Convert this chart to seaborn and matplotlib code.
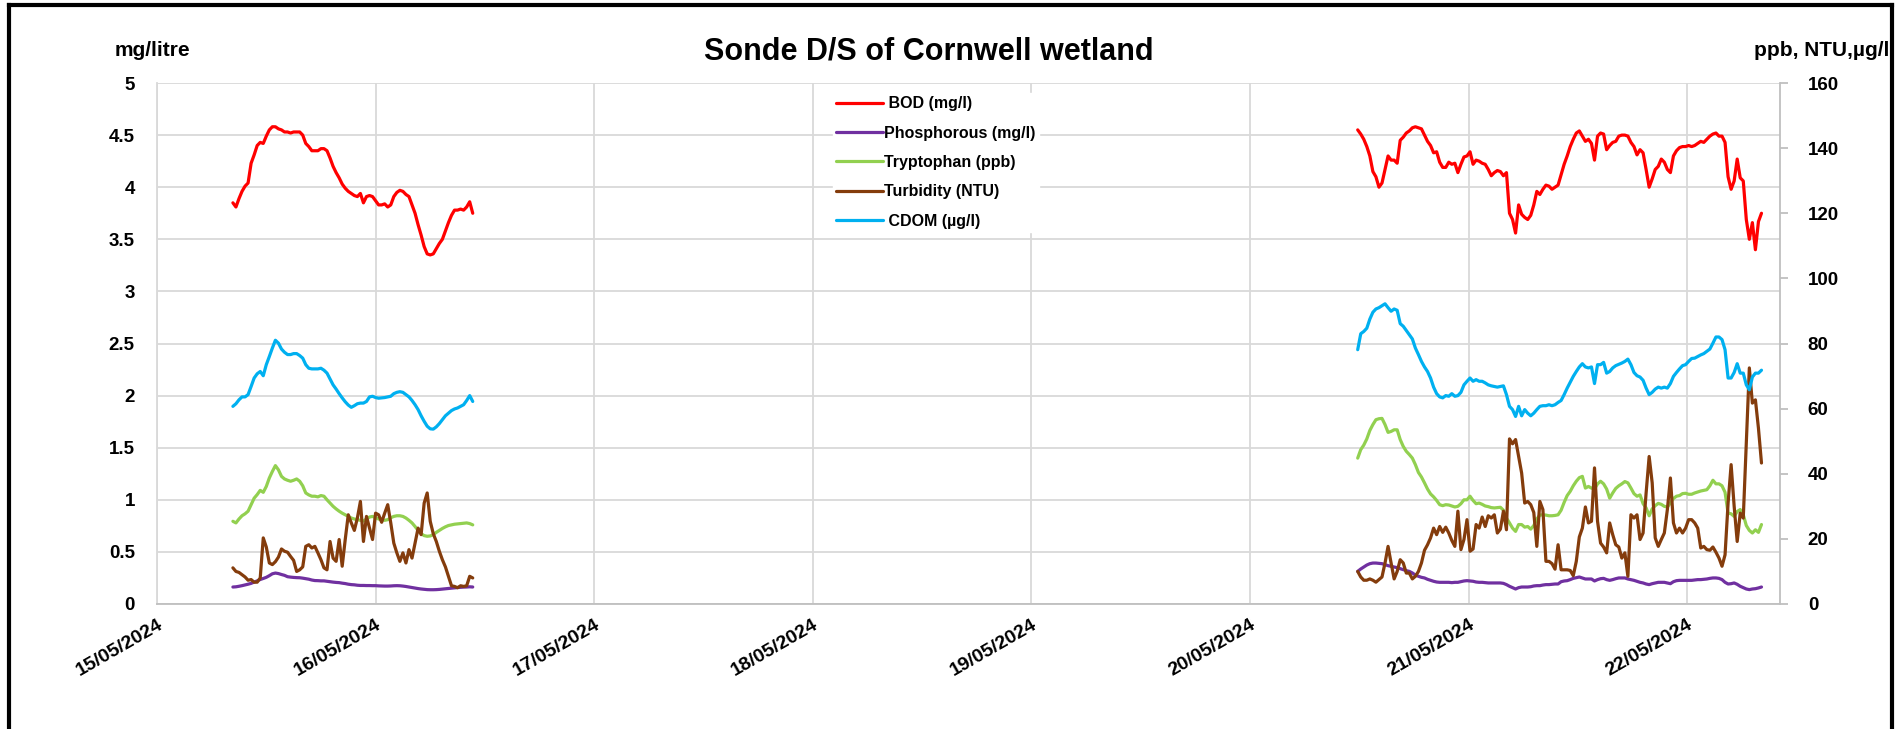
import numpy as np
import pandas as pd
import matplotlib
matplotlib.use("Agg")
import matplotlib.pyplot as plt
import matplotlib.dates as mdates
from matplotlib.lines import Line2D
import seaborn as sns

# ---------------------------------------------------------------
# Sonde readings downstream of Cornwell wetland (20-minute logging)
# ---------------------------------------------------------------
seg1_start = "2024-05-15 08:20"
seg2_start = "2024-05-20 11:50"
interval = "20min"

# BOD (mg/l) - left axis
bod_1 = [3.85, 3.81, 3.89, 3.96, 4.01, 4.04, 4.23, 4.31, 4.40, 4.43,
         4.42, 4.49, 4.55, 4.58, 4.58, 4.56, 4.55, 4.53, 4.53, 4.52,
         4.53, 4.53, 4.53, 4.50, 4.42, 4.39, 4.35, 4.35, 4.35, 4.37,
         4.37, 4.35, 4.28, 4.20, 4.14, 4.09, 4.03, 3.99, 3.96, 3.94,
         3.92, 3.91, 3.94, 3.85, 3.91, 3.92, 3.91, 3.87, 3.83, 3.83,
         3.84, 3.81, 3.83, 3.91, 3.95, 3.97, 3.96, 3.93, 3.91, 3.83,
         3.75, 3.64, 3.54, 3.43, 3.36, 3.35, 3.36, 3.41, 3.46, 3.50,
         3.58, 3.66, 3.73, 3.78, 3.78, 3.79, 3.78, 3.81, 3.86, 3.75]
bod_2 = [4.55, 4.51, 4.46, 4.39, 4.30, 4.15, 4.10, 4.00, 4.04, 4.17,
         4.30, 4.26, 4.26, 4.23, 4.45, 4.48, 4.52, 4.54, 4.57, 4.58,
         4.57, 4.56, 4.50, 4.44, 4.40, 4.33, 4.34, 4.24, 4.19, 4.19,
         4.24, 4.22, 4.23, 4.14, 4.22, 4.29, 4.30, 4.34, 4.22, 4.26,
         4.25, 4.23, 4.22, 4.17, 4.11, 4.14, 4.16, 4.15, 4.11, 4.14,
         3.75, 3.69, 3.56, 3.83, 3.74, 3.71, 3.69, 3.73, 3.83, 3.96,
         3.93, 3.98, 4.02, 4.01, 3.98, 4.00, 4.02, 4.12, 4.22, 4.30,
         4.39, 4.46, 4.52, 4.54, 4.49, 4.44, 4.46, 4.42, 4.26, 4.49,
         4.52, 4.51, 4.36, 4.40, 4.43, 4.44, 4.49, 4.50, 4.50, 4.49,
         4.43, 4.39, 4.31, 4.36, 4.33, 4.17, 4.00, 4.08, 4.17, 4.20,
         4.27, 4.24, 4.17, 4.14, 4.30, 4.35, 4.38, 4.39, 4.39, 4.40,
         4.39, 4.40, 4.42, 4.44, 4.43, 4.46, 4.49, 4.51, 4.52, 4.49,
         4.49, 4.43, 4.10, 3.98, 4.06, 4.27, 4.09, 4.06, 3.69, 3.50,
         3.66, 3.40, 3.67, 3.75]

# Phosphorous (mg/l) - left axis
phos_1 = [0.163, 0.165, 0.170, 0.176, 0.183, 0.190, 0.198, 0.210, 0.222, 0.235,
          0.245, 0.256, 0.272, 0.290, 0.297, 0.292, 0.283, 0.275, 0.262, 0.258,
          0.255, 0.253, 0.252, 0.248, 0.243, 0.238, 0.230, 0.225, 0.224, 0.222,
          0.222, 0.218, 0.214, 0.210, 0.207, 0.205, 0.200, 0.196, 0.190, 0.186,
          0.184, 0.180, 0.178, 0.178, 0.177, 0.177, 0.176, 0.176, 0.174, 0.173,
          0.172, 0.172, 0.173, 0.175, 0.176, 0.175, 0.172, 0.168, 0.163, 0.158,
          0.153, 0.148, 0.144, 0.141, 0.138, 0.137, 0.137, 0.138, 0.140, 0.143,
          0.146, 0.149, 0.152, 0.155, 0.158, 0.160, 0.162, 0.163, 0.165, 0.163]
phos_2 = [0.313, 0.336, 0.355, 0.374, 0.387, 0.393, 0.393, 0.390, 0.387, 0.377,
          0.368, 0.361, 0.355, 0.349, 0.339, 0.329, 0.320, 0.313, 0.298, 0.278,
          0.266, 0.256, 0.250, 0.237, 0.227, 0.218, 0.211, 0.208, 0.208, 0.208,
          0.208, 0.205, 0.208, 0.208, 0.214, 0.221, 0.224, 0.221, 0.218, 0.211,
          0.208, 0.208, 0.205, 0.202, 0.202, 0.202, 0.202, 0.202, 0.198, 0.186,
          0.170, 0.157, 0.144, 0.157, 0.163, 0.163, 0.163, 0.166, 0.173, 0.176,
          0.176, 0.182, 0.186, 0.186, 0.189, 0.192, 0.192, 0.214, 0.221, 0.224,
          0.234, 0.246, 0.253, 0.259, 0.250, 0.240, 0.240, 0.240, 0.221, 0.234,
          0.243, 0.246, 0.234, 0.227, 0.234, 0.243, 0.250, 0.250, 0.250, 0.240,
          0.234, 0.227, 0.218, 0.208, 0.202, 0.192, 0.186, 0.195, 0.202, 0.208,
          0.208, 0.208, 0.202, 0.195, 0.214, 0.224, 0.227, 0.227, 0.227, 0.227,
          0.227, 0.230, 0.234, 0.234, 0.237, 0.240, 0.246, 0.250, 0.250, 0.246,
          0.234, 0.208, 0.192, 0.195, 0.202, 0.189, 0.170, 0.157, 0.144, 0.138,
          0.144, 0.147, 0.154, 0.163]

# Tryptophan (ppb) - right axis
tryp_1 = [25.4, 24.9, 26.1, 27.1, 27.7, 28.5, 30.5, 32.5, 33.6, 34.9,
          34.3, 36.1, 38.7, 40.7, 42.5, 41.2, 39.2, 38.4, 38.0, 37.7,
          38.0, 38.4, 37.7, 36.3, 34.1, 33.5, 33.1, 33.1, 32.9, 33.3,
          33.1, 32.0, 31.0, 30.0, 29.2, 28.5, 27.9, 27.4, 26.9, 26.4,
          26.1, 25.9, 25.7, 25.5, 26.1, 26.7, 26.9, 26.5, 26.1, 25.9,
          25.7, 25.9, 26.5, 26.9, 27.1, 27.1, 26.9, 26.4, 25.7, 24.9,
          23.8, 22.6, 21.6, 21.0, 20.8, 20.9, 21.3, 22.0, 22.6, 23.2,
          23.7, 24.1, 24.3, 24.5, 24.6, 24.7, 24.8, 24.9, 24.7, 24.3]
tryp_2 = [44.8, 47.4, 48.8, 50.7, 53.3, 55.1, 56.6, 56.9, 57.0, 55.1,
          52.7, 53.0, 53.5, 53.5, 50.5, 48.4, 46.9, 45.9, 44.8, 42.8,
          40.4, 39.0, 37.2, 35.3, 33.8, 32.9, 31.8, 30.5, 30.2, 30.5,
          30.4, 30.1, 29.8, 30.0, 30.8, 32.0, 32.0, 33.1, 31.8, 30.8,
          31.0, 30.6, 30.1, 29.9, 29.6, 29.5, 29.6, 29.7, 28.8, 26.4,
          24.9, 23.3, 22.3, 24.4, 24.4, 23.6, 23.8, 23.0, 24.1, 26.1,
          27.3, 27.4, 27.3, 27.1, 27.1, 27.2, 27.4, 28.8, 31.2, 33.3,
          34.6, 36.3, 37.7, 38.8, 39.2, 35.6, 36.1, 35.6, 35.3, 36.9,
          37.7, 36.9, 35.3, 32.5, 34.1, 35.5, 36.3, 36.9, 37.6, 37.2,
          35.6, 33.9, 33.1, 33.5, 30.8, 29.5, 27.1, 29.2, 30.2, 30.9,
          30.6, 30.0, 29.8, 31.0, 32.4, 33.1, 33.3, 33.9, 34.0, 33.7,
          33.7, 34.1, 34.4, 34.7, 34.9, 35.1, 36.3, 38.0, 36.9, 36.9,
          36.3, 34.3, 27.9, 27.7, 26.9, 28.4, 29.0, 27.4, 24.1, 22.6,
          21.8, 22.8, 22.0, 24.4]

# Turbidity (NTU) - right axis
turb_1 = [11.1, 10.0, 9.7, 9.0, 8.3, 7.3, 7.5, 6.7, 6.7, 8.0,
          20.3, 17.5, 12.6, 12.1, 13.0, 14.4, 16.9, 16.2, 15.9, 14.6,
          13.4, 10.0, 10.5, 11.4, 17.7, 18.2, 17.2, 17.7, 15.7, 13.6,
          11.1, 10.5, 19.2, 14.1, 13.1, 19.8, 11.6, 19.8, 27.4, 24.9,
          22.6, 26.4, 31.5, 19.2, 26.9, 23.3, 19.8, 27.9, 27.4, 25.1,
          27.9, 30.5, 24.9, 18.7, 15.7, 13.1, 15.7, 12.6, 16.7, 14.1,
          18.7, 23.3, 21.3, 31.0, 34.1, 25.4, 21.6, 19.2, 16.2, 13.6,
          11.4, 8.5, 5.6, 5.4, 5.0, 5.6, 5.4, 5.6, 8.5, 8.0]
turb_2 = [10.0, 8.3, 7.3, 7.3, 7.7, 7.3, 6.7, 7.5, 8.3, 12.6,
          17.7, 12.6, 7.7, 10.0, 13.6, 12.6, 9.5, 9.5, 7.7, 8.5,
          10.0, 12.6, 16.5, 18.2, 20.3, 23.3, 21.3, 23.8, 22.0, 23.6,
          21.8, 19.5, 17.7, 28.5, 16.7, 19.8, 25.9, 16.2, 16.9, 24.4,
          23.3, 26.7, 23.8, 27.1, 26.4, 27.4, 21.8, 23.0, 28.5, 22.8,
          50.7, 49.2, 50.5, 45.3, 40.2, 31.0, 31.5, 30.5, 28.1, 17.7,
          31.5, 29.0, 13.1, 13.1, 12.4, 10.7, 18.2, 10.5, 10.5, 10.5,
          10.3, 8.7, 13.1, 20.6, 23.3, 29.8, 24.9, 25.4, 41.8, 25.4,
          18.7, 17.5, 15.7, 24.9, 21.3, 18.2, 17.5, 14.1, 15.7, 8.5,
          27.4, 26.4, 27.4, 19.8, 21.8, 34.1, 45.3, 37.2, 20.3, 17.7,
          19.8, 21.8, 29.0, 38.7, 24.9, 21.8, 23.3, 21.8, 23.3, 25.9,
          25.9, 24.9, 23.3, 17.2, 17.7, 16.7, 16.5, 17.5, 15.9, 14.1,
          11.6, 15.1, 31.0, 42.8, 30.0, 19.2, 27.9, 26.4, 49.4, 72.5,
          61.7, 62.7, 54.0, 43.3]

# CDOM (ug/l) - right axis
cdom_1 = [60.7, 61.5, 62.7, 63.6, 63.6, 64.3, 66.8, 69.4, 70.7, 71.4,
          70.1, 73.5, 76.0, 78.6, 81.0, 80.1, 78.3, 77.3, 76.6, 76.6,
          76.9, 76.9, 76.3, 75.5, 73.5, 72.4, 72.2, 72.2, 72.2, 72.4,
          71.8, 70.9, 69.1, 67.3, 66.0, 64.6, 63.3, 62.1, 61.1, 60.4,
          60.9, 61.5, 61.7, 61.7, 62.2, 63.6, 63.8, 63.4, 63.2, 63.3,
          63.4, 63.6, 63.8, 64.6, 65.0, 65.2, 65.0, 64.3, 63.6, 62.5,
          61.2, 59.7, 57.8, 56.1, 54.6, 53.8, 53.7, 54.4, 55.4, 56.6,
          57.8, 58.6, 59.4, 59.9, 60.2, 60.7, 61.2, 62.5, 64.0, 62.2]
cdom_2 = [78.1, 83.0, 83.7, 84.7, 87.5, 89.6, 90.6, 91.0, 91.6, 92.2,
          91.0, 89.9, 90.6, 90.2, 86.1, 85.3, 84.0, 82.7, 81.4, 78.6,
          76.6, 74.5, 72.8, 71.4, 69.4, 66.6, 64.6, 63.6, 63.3, 64.0,
          63.8, 64.6, 63.8, 64.0, 65.0, 67.3, 68.4, 69.4, 68.4, 68.9,
          68.4, 68.4, 67.9, 67.3, 67.0, 66.8, 66.6, 66.8, 67.0, 64.3,
          60.7, 59.7, 57.6, 60.7, 57.8, 59.7, 58.6, 57.8, 58.6, 59.7,
          60.7, 60.9, 60.9, 61.2, 60.9, 61.2, 61.9, 62.5, 64.3, 66.3,
          68.1, 69.9, 71.4, 72.8, 73.8, 72.8, 72.5, 72.8, 67.7, 73.5,
          73.5, 74.2, 70.9, 71.4, 72.5, 73.2, 73.6, 74.0, 74.5, 75.2,
          73.5, 71.1, 70.1, 69.7, 68.7, 66.3, 64.3, 65.0, 66.0, 66.6,
          66.3, 66.6, 66.3, 67.7, 69.9, 71.1, 72.2, 73.2, 73.5, 74.5,
          75.4, 75.5, 76.0, 76.5, 76.9, 77.6, 78.3, 80.1, 82.0, 82.0,
          81.2, 78.1, 69.4, 69.4, 71.1, 73.8, 70.9, 70.9, 67.3, 65.8,
          69.7, 70.9, 70.9, 71.8]

series_names = [" BOD (mg/l)", "Phosphorous (mg/l)", "Tryptophan (ppb)",
                "Turbidity (NTU)", " CDOM (\u00b5g/l)"]
series_colors = ["#FF0000", "#7030A0", "#92D050", "#843C0C", "#00B0F0"]
left_series = series_names[:2]
right_series = series_names[2:]

# ---------------------------------------------------------------
# Long-form table: one row per reading
# ---------------------------------------------------------------
t1 = pd.date_range(seg1_start, periods=len(bod_1), freq=interval)
t2 = pd.date_range(seg2_start, periods=len(bod_2), freq=interval)
pairs = {
    series_names[0]: (bod_1, bod_2),
    series_names[1]: (phos_1, phos_2),
    series_names[2]: (tryp_1, tryp_2),
    series_names[3]: (turb_1, turb_2),
    series_names[4]: (cdom_1, cdom_2),
}
frames = []
for name, (v1, v2) in pairs.items():
    frames.append(pd.DataFrame({"time": t1, "value": v1, "series": name, "deployment": 1}))
    frames.append(pd.DataFrame({"time": t2, "value": v2, "series": name, "deployment": 2}))
readings = pd.concat(frames, ignore_index=True)
palette = dict(zip(series_names, series_colors))

# ---------------------------------------------------------------
# Figure
# ---------------------------------------------------------------
sns.set_theme(style="white")
plt.rcParams["font.family"] = ["Liberation Sans", "DejaVu Sans"]
narrow = ["Liberation Sans Narrow", "Liberation Sans", "DejaVu Sans"]

W, H = 1898, 729
fig = plt.figure(figsize=(W / 100, H / 100), dpi=100)
x0, x1, y0, y1 = 157, 1780, 604, 83
ax = fig.add_axes([x0 / W, 1 - y0 / H, (x1 - x0) / W, (y0 - y1) / H])
ax2 = ax.twinx()

grid_col = "#D9D9D9"
lw = 2.3

sns.lineplot(data=readings[readings.series.isin(left_series)], x="time", y="value",
             hue="series", units="deployment", estimator=None, sort=False,
             palette=palette, linewidth=lw, legend=False, ax=ax)
sns.lineplot(data=readings[readings.series.isin(right_series)], x="time", y="value",
             hue="series", units="deployment", estimator=None, sort=False,
             palette=palette, linewidth=lw, legend=False, ax=ax2)

# axis ranges
ax.set_xlim(pd.Timestamp("2024-05-15 00:00"), pd.Timestamp("2024-05-22 10:12"))
ax.set_ylim(0, 5)
ax2.set_ylim(0, 160)
ax.set_yticks(np.arange(0, 5.01, 0.5))
ax.set_yticklabels(["0", "0.5", "1", "1.5", "2", "2.5", "3", "3.5", "4", "4.5", "5"])
ax2.set_yticks(np.arange(0, 161, 20))
ax.xaxis.set_major_locator(mdates.DayLocator())
ax.xaxis.set_major_formatter(mdates.DateFormatter("%d/%m/%Y"))
ax.set_xlabel("")
ax.set_ylabel("")
ax2.set_ylabel("")

ax.grid(True, color=grid_col, linewidth=1.3)
ax.set_axisbelow(True)
ax2.grid(False)

for a in (ax, ax2):
    for side in ("top", "left", "right", "bottom"):
        a.spines[side].set_visible(False)
ax.spines["bottom"].set_visible(True)
ax.spines["bottom"].set_color("#BFBFBF")
ax.spines["bottom"].set_linewidth(1.3)
ax.spines["left"].set_visible(True)
ax.spines["left"].set_color(grid_col)
ax.spines["left"].set_linewidth(1.3)
ax2.spines["right"].set_visible(True)
ax2.spines["right"].set_color("#BFBFBF")
ax2.spines["right"].set_linewidth(1.3)

ax.tick_params(axis="y", left=False, pad=10, labelsize=13.5, labelcolor="black")
ax.tick_params(axis="x", bottom=False, pad=3, labelsize=14, labelcolor="black")
ax2.tick_params(axis="y", right=True, direction="out", length=6, width=1.3,
                color="#BFBFBF", pad=14, labelsize=13.5, labelcolor="black")
for lab in ax.get_yticklabels() + ax2.get_yticklabels():
    lab.set_fontweight("bold")
for lab in ax.get_xticklabels():
    lab.set_fontweight("bold")
    lab.set_rotation(30)
    lab.set_horizontalalignment("right")
    lab.set_verticalalignment("top")
    lab.set_rotation_mode("anchor")

# legend
handles = [Line2D([0], [0], color=c, linewidth=lw) for c in series_colors]
leg = ax2.legend(handles, series_names, loc="upper left",
                 bbox_to_anchor=(833 / W, 1 - 93 / H), bbox_transform=fig.transFigure,
                 frameon=True, fancybox=False, framealpha=1, edgecolor="white",
                 facecolor="white", handlelength=2.9, handletextpad=0.12,
                 labelspacing=0.9, borderpad=0.2, borderaxespad=0,
                 prop=dict(family=narrow, weight="bold", size=11.5))
for txt in leg.get_texts():
    txt.set_color("black")

# titles
fig.text(929 / W, 1 - 51 / H, "Sonde D/S of Cornwell wetland", ha="center", va="center",
         fontsize=22, fontweight="bold", family=narrow, color="black")
fig.text(115 / W, 1 - 51 / H, "mg/litre", ha="left", va="center",
         fontsize=15, fontweight="bold", family=narrow, color="black")
fig.text(1889 / W, 1 - 51 / H, "ppb, NTU,\u00b5g/l", ha="right", va="center",
         fontsize=15, fontweight="bold", family=narrow, color="black")

# outer frame
frame_kw = dict(color="black", linewidth=3, transform=fig.transFigure, solid_capstyle="projecting")
fl, fr, ft = 9 / W, 1892 / W, 1 - 5 / H
fig.add_artist(Line2D([fl, fr], [ft, ft], **frame_kw))
fig.add_artist(Line2D([fl, fl], [ft, 0], **frame_kw))
fig.add_artist(Line2D([fr, fr], [ft, 0], **frame_kw))

fig.savefig("out.png", dpi=100, facecolor="white")
